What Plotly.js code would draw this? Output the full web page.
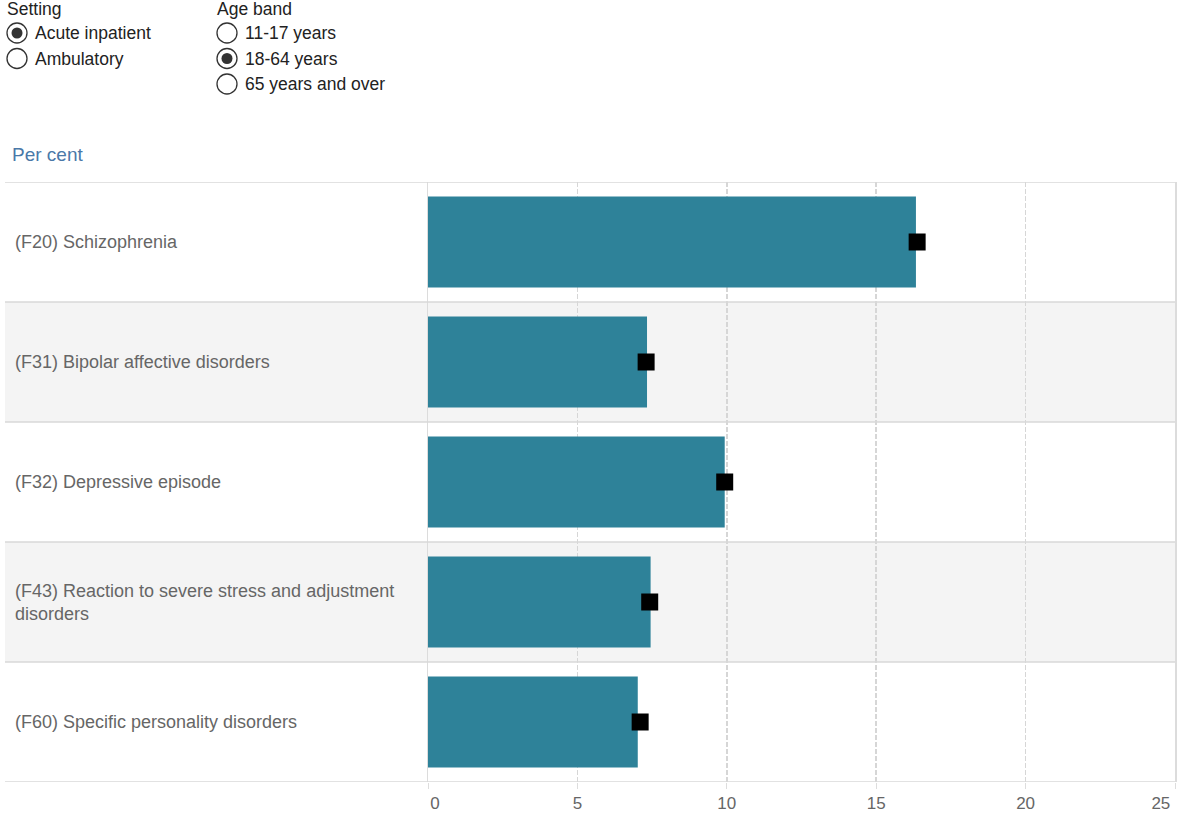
<!DOCTYPE html>
<html>
<head>
<meta charset="utf-8">
<script src="https://cdn.plot.ly/plotly-3.0.1.min.js"></script>
<style>html,body{margin:0;padding:0;background:#fff;}#chart{width:1177px;height:818px;}</style>
</head>
<body>
<div id="chart"></div>
<script>
// Data
const categories = [
  "(F20) Schizophrenia",
  "(F31) Bipolar affective disorders",
  "(F32) Depressive episode",
  "(F43) Reaction to severe stress and adjustment disorders",
  "(F60) Specific personality disorders"
];
const categoryLabels = [
  "(F20) Schizophrenia",
  "(F31) Bipolar affective disorders",
  "(F32) Depressive episode",
  "(F43) Reaction to severe stress and adjustment<br>disorders",
  "(F60) Specific personality disorders"
];
const barValues = [16.33, 7.33, 9.93, 7.45, 7.02];
const markerValues = [16.37, 7.30, 9.93, 7.42, 7.10];
const tickValues = [0, 5, 10, 15, 20, 25];
const tickLabels = ["\u00a0\u00a0\u00a00", "5", "10", "15", "20", "25\u00a0\u00a0\u00a0\u00a0\u00a0\u00a0"];
const settingOptions = ["Acute inpatient", "Ambulatory"];
const ageOptions = ["11-17 years", "18-64 years", "65 years and over"];

const W = 1177, H = 818;
const L = 428, R = 2, T = 182, B = 36;
const pw = W - L - R, ph = H - T - B;
const px = p => (p - L) / pw;           // pixel x -> paper x
const py = p => (H - B - p) / ph;       // pixel y -> paper y

const FONT = "Liberation Sans, Arial, Helvetica, sans-serif";

const traces = [
  {
    type: "bar", orientation: "h",
    y: categories, x: barValues,
    marker: {color: "#2e8299"},
    width: 0.76,
    hoverinfo: "skip", showlegend: false
  },
  {
    type: "scatter", mode: "markers",
    y: categories, x: markerValues,
    marker: {symbol: "square", size: 17, color: "#000000"},
    hoverinfo: "skip", showlegend: false
  }
];

const shapes = [];
const annotations = [];
// Row bands
categories.forEach((c, i) => {
  if (i % 2 === 1) {
    shapes.push({type: "rect", layer: "below", xref: "paper", yref: "y",
      x0: px(5), x1: 1, y0: i - 0.5, y1: i + 0.5,
      fillcolor: "#f4f4f4", line: {width: 0}});
  }
});
for (let k = 0; k <= categories.length; k++) {
  shapes.push({type: "line", layer: "above", xref: "paper", yref: "y",
    x0: px(5), x1: 1, y0: k - 0.5, y1: k - 0.5,
    line: {color: "#d9d9d9", width: 1.5}});
}
// Category labels (left aligned)
categories.forEach((c, i) => {
  annotations.push({xref: "paper", yref: "y", x: px(13), y: c,
    xanchor: "left", yanchor: "middle", align: "left", showarrow: false,
    text: categoryLabels[i], font: {family: FONT, size: 18, color: "#666666"}});
});
// Per cent
annotations.push({xref: "paper", yref: "paper", x: px(10), y: py(154),
  xanchor: "left", yanchor: "middle", showarrow: false, text: "Per cent",
  font: {family: FONT, size: 19, color: "#4a78a8"}});

// Radio groups
function radioGroup(title, opts, selected, xLeft) {
  annotations.push({xref: "paper", yref: "paper", x: px(xLeft - 1), y: py(9),
    xanchor: "left", yanchor: "middle", showarrow: false, text: title,
    font: {family: FONT, size: 17.5, color: "#222222"}});
  opts.forEach((o, j) => {
    const cy = 33 + j * 25.5;
    const cx = xLeft + 11;
    shapes.push({type: "circle", xref: "paper", yref: "paper",
      xsizemode: "pixel", ysizemode: "pixel", xanchor: px(cx), yanchor: py(cy),
      x0: -10, x1: 10, y0: -10, y1: 10,
      line: {color: "#333333", width: 1.3}, fillcolor: "#ffffff"});
    if (j === selected) {
      shapes.push({type: "circle", xref: "paper", yref: "paper",
        xsizemode: "pixel", ysizemode: "pixel", xanchor: px(cx), yanchor: py(cy),
        x0: -5.5, x1: 5.5, y0: -5.5, y1: 5.5,
        line: {color: "#333333", width: 0}, fillcolor: "#333333"});
    }
    annotations.push({xref: "paper", yref: "paper", x: px(xLeft + 27), y: py(cy),
      xanchor: "left", yanchor: "middle", showarrow: false, text: o,
      font: {family: FONT, size: 17.5, color: "#222222"}});
  });
}
radioGroup("Setting", settingOptions, 0, 6);
radioGroup("Age band", ageOptions, 1, 216);

const layout = {
  width: W, height: H,
  margin: {l: L, r: R, t: T, b: B, pad: 0},
  paper_bgcolor: "#ffffff", plot_bgcolor: "rgba(0,0,0,0)",
  font: {family: FONT, size: 17, color: "#666666"},
  showlegend: false,
  hovermode: false,
  bargap: 0.24,
  xaxis: {
    range: [0, 25], fixedrange: true,
    tickvals: tickValues, ticktext: tickLabels,
    ticklabeloverflow: "allow",
    showgrid: true, gridcolor: "#d6d6d6", griddash: "5px,2px", gridwidth: 1.5,
    zeroline: false, showline: false,
    ticks: "outside", ticklen: 6, tickcolor: "#dddddd", tickwidth: 1,
    tickfont: {family: FONT, size: 17, color: "#666666"}
  },
  yaxis: {
    type: "category", categoryorder: "array", categoryarray: categories,
    range: [4.5, -0.5], fixedrange: true,
    showticklabels: false, ticks: "", showgrid: false, zeroline: false,
    showline: true, mirror: true, linecolor: "#dcdcdc", linewidth: 1.5
  },
  shapes: shapes,
  annotations: annotations
};

Plotly.newPlot("chart", traces, layout, {displayModeBar: false, staticPlot: true});
</script>
</body>
</html>
